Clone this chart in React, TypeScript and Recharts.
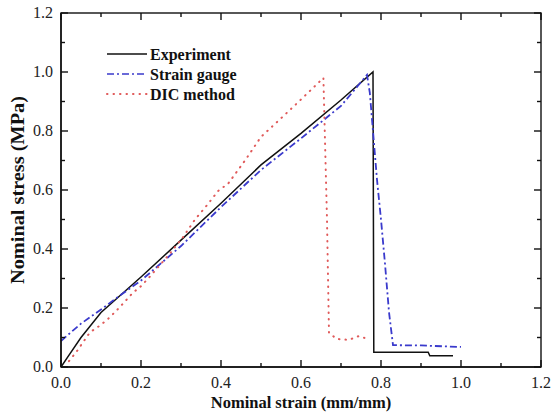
import React from 'react';
import { LineChart, Line, XAxis, YAxis, Label } from 'recharts';

// values
const expStrain = [0, 0.02, 0.05, 0.1, 0.15, 0.2, 0.3, 0.4, 0.5, 0.6, 0.7, 0.78, 0.782, 0.918, 0.922, 0.98];
const expStress = [0, 0.04, 0.1, 0.185, 0.245, 0.305, 0.43, 0.555, 0.685, 0.792, 0.905, 1.0, 0.05, 0.05, 0.038, 0.038];

const gaugeStrain = [0, 0.02, 0.05, 0.1, 0.15, 0.2, 0.3, 0.4, 0.5, 0.6, 0.7, 0.765, 0.772, 0.79, 0.8, 0.81, 0.82, 0.83, 0.9, 1.0];
const gaugeStress = [0.088, 0.112, 0.147, 0.195, 0.245, 0.293, 0.41, 0.542, 0.668, 0.775, 0.885, 0.99, 0.93, 0.635, 0.5, 0.35, 0.186, 0.074, 0.073, 0.068];

const dicStrain = [0.02, 0.04, 0.072, 0.1, 0.12, 0.145, 0.18, 0.2, 0.22, 0.27, 0.305, 0.335, 0.364, 0.395, 0.417, 0.46, 0.5, 0.554, 0.59, 0.627, 0.656, 0.665, 0.67, 0.69, 0.72, 0.745, 0.76];
const dicStress = [0.02, 0.054, 0.117, 0.143, 0.166, 0.2, 0.252, 0.274, 0.303, 0.381, 0.44, 0.5, 0.547, 0.6, 0.62, 0.7, 0.78, 0.848, 0.894, 0.942, 0.98, 0.5, 0.115, 0.095, 0.092, 0.105, 0.098];

const tickValues = [0, 0.1, 0.2, 0.3, 0.4, 0.5, 0.6, 0.7, 0.8, 0.9, 1.0, 1.1, 1.2];

const seriesNames = ['Experiment', 'Strain gauge', 'DIC method'];

const toPoints = (xs: number[], ys: number[]) => xs.map((x, i) => ({ x, y: ys[i] }));

const FONT = '"Liberation Serif", "Times New Roman", serif';
const INK = '#111';
const TS = 6; // recharts tickSize
const TM = 2; // recharts tickMargin
const OFF = TS + TM;

// plot box, follows from the chart margins and axis sizes below
const W = 551;
const H = 416;
const M = { top: -7, right: -10, left: 0, bottom: 0 };
const LEFT_W = 61;
const RIGHT_W = 20;
const TOP_H = 20;
const BOTTOM_H = 49;
const box = {
  x0: M.left + LEFT_W,
  x1: W - M.right - RIGHT_W,
  y0: M.top + TOP_H,
  y1: H - M.bottom - BOTTOM_H,
};

const isMajor = (v: number) => Math.round(v * 10) % 2 === 0;

const BottomTick = (props: any) => {
  const v = props.payload.value;
  if (!isMajor(v)) return <g />;
  const ay = Number(props.y) - OFF;
  return (
    <text x={props.x} y={ay + 21} textAnchor="middle" fontFamily={FONT} fontSize={16} fill="#222">
      {v.toFixed(1)}
    </text>
  );
};

const LeftTick = (props: any) => {
  const v = props.payload.value;
  if (!isMajor(v)) return <g />;
  const ax = Number(props.x) + OFF;
  return (
    <text x={ax - 8} y={Number(props.y) + 5} textAnchor="end" fontFamily={FONT} fontSize={16} fill="#222">
      {v.toFixed(1)}
    </text>
  );
};

// frame with inward ticks on all four sides
const Frame = () => {
  const sx = (v: number) => box.x0 + (v / 1.2) * (box.x1 - box.x0);
  const sy = (v: number) => box.y1 - (v / 1.2) * (box.y1 - box.y0);
  return (
    <svg width={W} height={H} style={{ position: 'absolute', left: 0, top: 0, pointerEvents: 'none' }}>
      <rect x={box.x0} y={box.y0} width={box.x1 - box.x0} height={box.y1 - box.y0} fill="none" stroke={INK} strokeWidth={1.4} />
      {tickValues.map((v) => {
        const len = isMajor(v) ? 7 : 4;
        const x = sx(v);
        const y = sy(v);
        return (
          <g key={v} stroke={INK} strokeWidth={1.4}>
            <line x1={x} x2={x} y1={box.y1} y2={box.y1 - len} />
            <line x1={x} x2={x} y1={box.y0} y2={box.y0 + len} />
            <line x1={box.x0} x2={box.x0 + len} y1={y} y2={y} />
            <line x1={box.x1} x2={box.x1 - len} y1={y} y2={y} />
          </g>
        );
      })}
    </svg>
  );
};

const LegendBox = () => {
  const rows = [
    { name: seriesNames[0], stroke: INK, dash: undefined, width: 1.5, cap: 'butt' },
    { name: seriesNames[1], stroke: '#3a3acc', dash: '7 3 2 3', width: 1.7, cap: 'butt' },
    { name: seriesNames[2], stroke: '#e05a5a', dash: '0.5 6', width: 2, cap: 'round' },
  ];
  return (
    <svg width={150} height={70} style={{ position: 'absolute', left: 105, top: 40 }}>
      {rows.map((r, i) => (
        <g key={r.name}>
          <line x1={2} x2={42} y1={14 + i * 20} y2={14 + i * 20} stroke={r.stroke} strokeWidth={r.width} strokeDasharray={r.dash} strokeLinecap={r.cap as any} />
          <text x={45} y={19.5 + i * 20} fontFamily={FONT} fontWeight="bold" fontSize={16} fill={INK}>
            {r.name}
          </text>
        </g>
      ))}
    </svg>
  );
};

const axisLine = { stroke: INK, strokeWidth: 1.4 };

export default function App() {
  return (
    <div style={{ position: 'absolute', left: 0, top: 0, width: W, height: H, background: '#fff' }}>
      <LineChart width={W} height={H} margin={M}>
        <XAxis
          xAxisId="b"
          type="number"
          dataKey="x"
          domain={[0, 1.2]}
          ticks={tickValues}
          tickSize={TS}
          tickMargin={TM}
          tickLine={false}
          tick={<BottomTick />}
          height={BOTTOM_H}
          axisLine={axisLine}
        >
          <Label
            content={({ viewBox }: any) => (
              <text x={viewBox.x + viewBox.width / 2} y={viewBox.y + 41} textAnchor="middle" fontFamily={FONT} fontWeight="bold" fontSize={16.5} fill={INK}>
                Nominal strain (mm/mm)
              </text>
            )}
          />
        </XAxis>
        <XAxis xAxisId="t" orientation="top" type="number" dataKey="x" domain={[0, 1.2]} tick={false} tickLine={false} axisLine={false} height={TOP_H} />
        <YAxis
          yAxisId="l"
          type="number"
          dataKey="y"
          domain={[0, 1.2]}
          ticks={tickValues}
          tickSize={TS}
          tickMargin={TM}
          tickLine={false}
          tick={<LeftTick />}
          width={LEFT_W}
          axisLine={axisLine}
        >
          <Label
            content={({ viewBox }: any) => {
              const cx = 18;
              const cy = viewBox.y + viewBox.height / 2;
              return (
                <text
                  x={cx}
                  y={cy}
                  transform={`rotate(-90 ${cx} ${cy})`}
                  textAnchor="middle"
                  dominantBaseline="central"
                  fontFamily={FONT}
                  fontWeight="bold"
                  fontSize={18}
                  textLength={188}
                  lengthAdjust="spacingAndGlyphs"
                  fill={INK}
                >
                  Nominal stress (MPa)
                </text>
              );
            }}
          />
        </YAxis>
        <YAxis yAxisId="r" orientation="right" type="number" dataKey="y" domain={[0, 1.2]} tick={false} tickLine={false} axisLine={false} width={RIGHT_W} />
        <Line
          xAxisId="b"
          yAxisId="l"
          name={seriesNames[0]}
          data={toPoints(expStrain, expStress)}
          dataKey="y"
          type="linear"
          stroke={INK}
          strokeWidth={1.5}
          dot={false}
          isAnimationActive={false}
        />
        <Line
          xAxisId="b"
          yAxisId="l"
          name={seriesNames[1]}
          data={toPoints(gaugeStrain, gaugeStress)}
          dataKey="y"
          type="linear"
          stroke="#3a3acc"
          strokeWidth={1.8}
          strokeDasharray="7 3 2 3"
          dot={false}
          isAnimationActive={false}
        />
        <Line
          xAxisId="t"
          yAxisId="r"
          name={seriesNames[2]}
          data={toPoints(dicStrain, dicStress)}
          dataKey="y"
          type="linear"
          stroke="#e05a5a"
          strokeWidth={2}
          strokeDasharray="0.5 6"
          strokeLinecap="round"
          dot={false}
          isAnimationActive={false}
        />
      </LineChart>
      <Frame />
      <LegendBox />
    </div>
  );
}
